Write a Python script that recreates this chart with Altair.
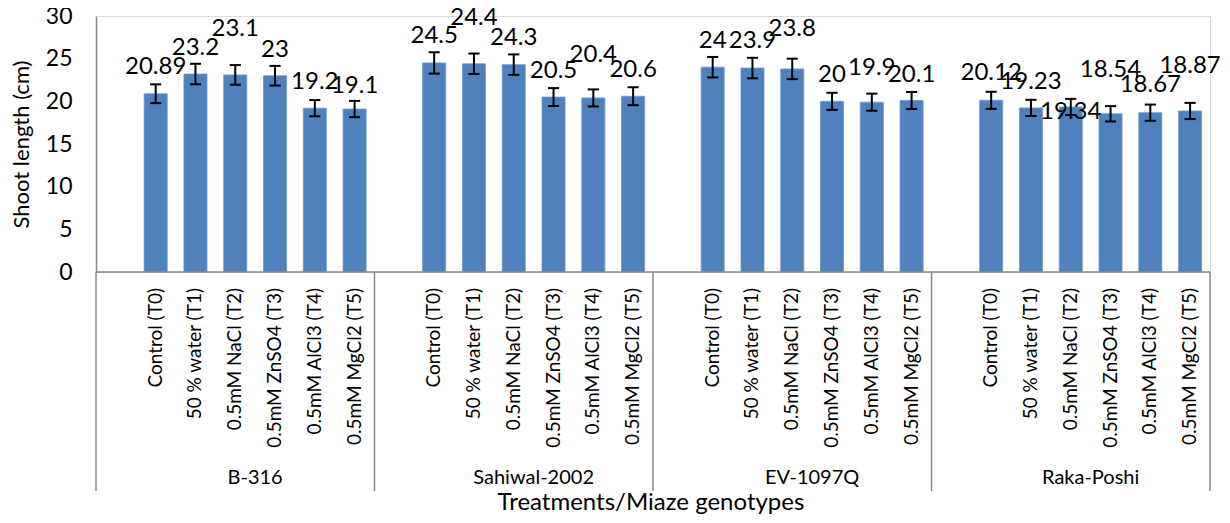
import altair as alt
import pandas as pd

genotypes = ["B-316", "Sahiwal-2002", "EV-1097Q", "Raka-Poshi"]
treatments = ["Control (T0)", "50 % water (T1)", "0.5mM NaCl (T2)",
              "0.5mM ZnSO4 (T3)", "0.5mM AlCl3 (T4)", "0.5mM MgCl2 (T5)"]
values = [20.89, 23.2, 23.1, 23, 19.2, 19.1,
          24.5, 24.4, 24.3, 20.5, 20.4, 20.6,
          24, 23.9, 23.8, 20, 19.9, 20.1,
          20.12, 19.23, 19.34, 18.54, 18.67, 18.87]
errors = [1.1, 1.2, 1.15, 1.15, 0.95, 0.95,
          1.25, 1.2, 1.2, 1.05, 1.0, 1.05,
          1.2, 1.2, 1.2, 1.0, 1.0, 1.0,
          1.0, 0.95, 0.95, 0.9, 0.95, 0.95]
label_text = ["20.89", "23.2", "23.1", "23", "19.2", "19.1",
              "24.5", "24.4", "24.3", "20.5", "20.4", "20.6",
              "24", "23.9", "23.8", "20", "19.9", "20.1",
              "20.12", "19.23", "19.34", "18.54", "18.67", "18.87"]

# label placement (data units) and horizontal nudges (px), as in the picture
label_y = [24.0, 26.3, 28.5, 26.0, 22.3, 21.8,
           27.7, 29.8, 27.4, 23.6, 25.4, 23.7,
           27.1, 27.1, 28.5, 23.1, 23.9, 23.1,
           23.3, 22.3, 18.8, 23.7, 21.9, 24.1]
label_dx = [0] * 18 + [-8, 0, 0, 0, 0, 0]

SLOTS = 7  # one blank slot + six treatments per genotype
rows = []
i = 0
for g, gen in enumerate(genotypes):
    for t, tr in enumerate(treatments):
        c = g * SLOTS + 1 + t + 0.5
        rows.append(dict(genotype=gen, treatment=tr, center=c,
                         left=c - 0.29, right=c + 0.29,
                         capl=c - 0.14, capr=c + 0.14,
                         value=values[i], lo=values[i] - errors[i],
                         hi=values[i] + errors[i], text=label_text[i],
                         ly=label_y[i], dx=label_dx[i]))
        i += 1
df = pd.DataFrame(rows)

grp = pd.DataFrame(dict(genotype=genotypes,
                        mid=[g * SLOTS + SLOTS / 2 + 0.5 for g in range(len(genotypes))]))
bounds = pd.DataFrame(dict(b=[g * SLOTS for g in range(len(genotypes) + 1)]))
one = pd.DataFrame(dict(t=["Treatments/Miaze genotypes"]))

W, H = 1114, 256
FONT = "Lato"
GRAY = "#898989"

xs = alt.Scale(domain=[0, len(genotypes) * SLOTS], nice=False, zero=False)
ys = alt.Scale(domain=[0, 30], nice=False)

base = alt.Chart(df)

bars = base.mark_bar(color="#4F81BD", stroke="#6F98CC", strokeWidth=0.8).encode(
    x=alt.X("left:Q", scale=xs, axis=None),
    x2="right:Q",
    y=alt.Y("value:Q", scale=ys,
            axis=alt.Axis(values=[0, 5, 10, 15, 20, 25, 30], grid=False, ticks=False,
                          domainColor=GRAY, domainWidth=1.5, labelFlush=False,
                          labelFont=FONT, labelFontSize=23, labelColor="#000000",
                          labelPadding=24, title="Shoot length (cm)",
                          titleFont=FONT, titleFontSize=22, titleFontWeight="normal",
                          titleColor="#000000", titlePadding=12)),
    y2=alt.datum(0),
)

err = base.mark_rule(color="#000000", strokeWidth=2).encode(
    x="center:Q", y="lo:Q", y2="hi:Q")
cap_top = base.mark_rule(color="#000000", strokeWidth=2).encode(
    x="capl:Q", x2="capr:Q", y="hi:Q")
cap_bot = base.mark_rule(color="#000000", strokeWidth=2).encode(
    x="capl:Q", x2="capr:Q", y="lo:Q")

labels = base.mark_text(font=FONT, fontSize=24, color="#000000",
                        baseline="middle", align="center").encode(
    x="center:Q", y="ly:Q", text="text:N", xOffset="dx:Q")

tlabels = base.mark_text(font=FONT, fontSize=19, color="#000000", angle=270,
                         align="right", baseline="middle").encode(
    x="center:Q", y=alt.value(H + 16), text="treatment:N")

glabels = alt.Chart(grp).mark_text(font=FONT, fontSize=20, color="#000000",
                                   baseline="middle", align="center").encode(
    x=alt.X("mid:Q", scale=xs), y=alt.value(H + 206), text="genotype:N")

xaxis_line = alt.Chart(one).mark_rule(color=GRAY, strokeWidth=1.5).encode(
    x=alt.value(0), x2=alt.value(W), y=alt.value(H))
seps = alt.Chart(bounds).mark_rule(color=GRAY, strokeWidth=1.5).encode(
    x=alt.X("b:Q", scale=xs), y=alt.value(H), y2=alt.value(H + 219))

xtitle = alt.Chart(one).mark_text(font=FONT, fontSize=24, color="#000000",
                                  baseline="middle", align="center").encode(
    x=alt.value(W / 2 - 2), y=alt.value(H + 231), text="t:N")

chart = alt.layer(bars, err, cap_top, cap_bot, labels, xaxis_line, seps,
                  tlabels, glabels, xtitle).properties(
    width=W, height=H,
    autosize=alt.AutoSizeParams(type="none"),
    padding={"left": 88, "top": 8, "right": 10, "bottom": 250},
).configure_view(stroke=None).configure(background="white")

chart.save("out.html", embed_options={"renderer": "svg", "actions": False})
